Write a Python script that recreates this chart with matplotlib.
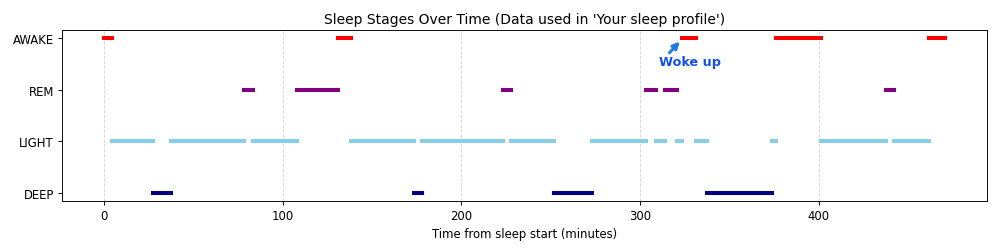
import matplotlib
matplotlib.use("Agg")
import matplotlib.pyplot as plt

# stage levels and colours
stage_names = ["DEEP", "LIGHT", "REM", "AWAKE"]
stage_colors = {"DEEP": "navy", "LIGHT": "skyblue", "REM": "purple", "AWAKE": "red"}

# hypnogram: stage of each segment and segment boundaries (minutes)
stages = ["AWAKE", "LIGHT", "DEEP", "LIGHT", "REM", "LIGHT", "REM", "AWAKE",
          "LIGHT", "DEEP", "LIGHT", "REM", "LIGHT", "DEEP", "LIGHT", "REM",
          "LIGHT", "REM", "LIGHT", "AWAKE", "LIGHT", "DEEP", "LIGHT", "AWAKE",
          "LIGHT", "REM", "LIGHT", "AWAKE"]
bounds = [0, 4.5, 27.5, 37.5, 78.5, 83.5, 108, 131, 138, 173.5, 178, 223,
          227.5, 251.5, 273, 303.5, 309, 314, 320.5, 323.5, 331, 337.5,
          373.5, 376, 401, 437.5, 442, 461.5, 470.5]

fig = plt.figure(figsize=(12, 3.003), dpi=83.25)
ax = fig.add_axes([0.062, 0.192, 0.926, 0.684])

for i, st in enumerate(stages):
    y = stage_names.index(st)
    ax.plot([bounds[i], bounds[i + 1]], [y, y], color=stage_colors[st], linewidth=3.5)

ax.set_yticks(range(len(stage_names)))
ax.set_yticklabels(stage_names)
ax.set_xlabel("Time from sleep start (minutes)")
ax.set_title("Sleep Stages Over Time (Data used in 'Your sleep profile')")
ax.grid(axis="x", linestyle="--", alpha=0.5)

ax.annotate("Woke up", xy=(323, 2.96), xytext=(328, 2.54),
            ha="center", va="center", color="#1450e6", fontweight="heavy",
            fontsize=11,
            arrowprops=dict(arrowstyle="-|>", color="#1e7ae6", lw=2.5,
                            mutation_scale=12, shrinkA=0, shrinkB=2,
                            relpos=(0.13, 1.0)))

fig.savefig("out.png")
